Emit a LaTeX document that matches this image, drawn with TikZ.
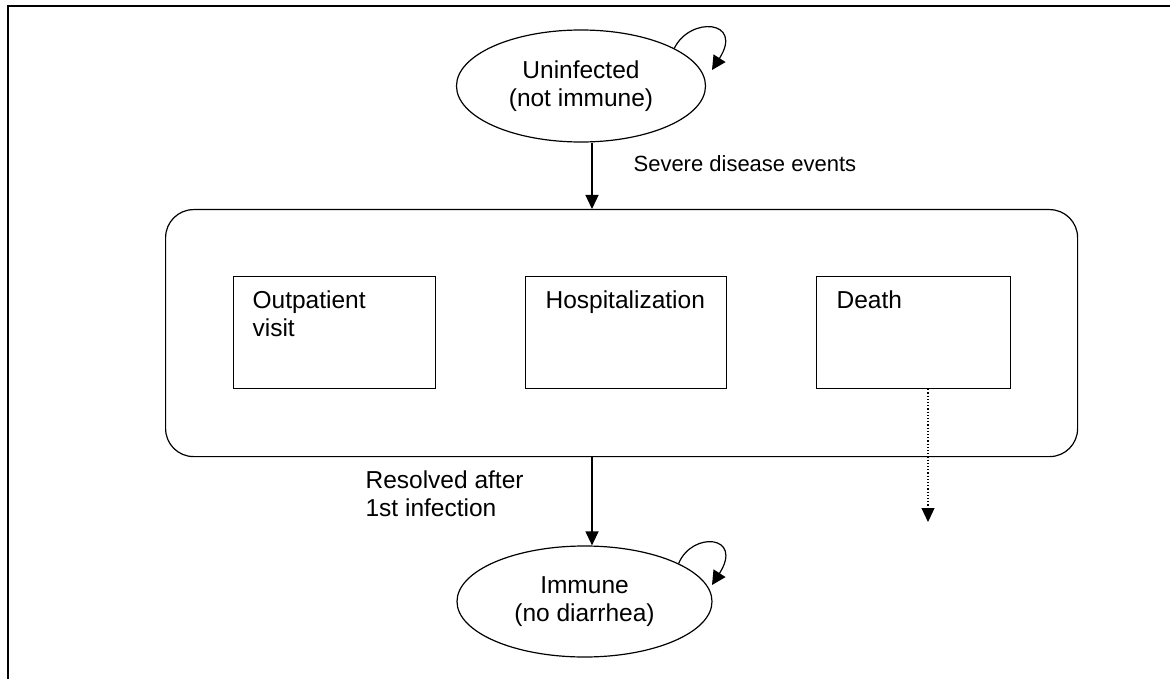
\documentclass[tikz,border=0pt]{standalone}
\usepackage{fontspec}
\setmainfont{Liberation Sans}
\usetikzlibrary{shapes.geometric,arrows.meta,calc}
\begin{document}
\begin{tikzpicture}[x=1pt,y=-1pt,
  line width=1.2pt,
  mainfont/.style={font=\fontsize{24.5}{28}\selectfont},
  smallfont/.style={font=\fontsize{22}{26}\selectfont},
  state/.style={draw, ellipse, inner sep=0pt, align=center, mainfont},
  evbox/.style={draw, rectangle, minimum width=202pt, minimum height=112pt, anchor=north west, inner sep=0pt},
  boxtext/.style={anchor=base west, inner sep=0pt, align=left, mainfont},
  lbl/.style={anchor=base west, inner sep=0pt, align=left},
  arr/.style={-{Triangle[length=14pt,width=13pt]}},
  looparr/.style={-{Triangle[length=14pt,width=14pt]}},
  dotarr/.style={dotted, -{Triangle[length=14pt,width=13pt]}}
]
\useasboundingbox (0,0) rectangle (1170,679);
% frame (top and left edges)
\draw[line width=1.8pt] (8,680) -- (8,6) -- (1171,6);

% states
\node[state, minimum width=249pt, minimum height=112pt] (unf) at (581,86) {Uninfected\\(not immune)};
\node[state, minimum width=255pt, minimum height=111pt] (imm) at (584.5,601.5) {Immune\\(no diarrhea)};

% big rounded box
\node[draw, rectangle, rounded corners=28pt, minimum width=912pt, minimum height=247pt, anchor=north west, inner sep=0pt] (rb) at (165,209) {};

% event boxes
\node[evbox] (outp) at (233,276) {};
\node[evbox, minimum width=201pt] (hosp) at (525,276) {};
\node[evbox, minimum width=194pt] (death) at (816,276) {};
\node[boxtext] (outpT) at (252,336) {Outpatient\\visit};
\node[boxtext] (hospT) at (545,308) {Hospitalization};
\node[boxtext] (deathT) at (836,308) {Death};

% connectors
\coordinate (ax) at (592,0);
\draw[arr] (unf.south -| ax) -- (rb.north -| ax);
\draw[arr] (rb.south -| ax) -- (imm.north -| ax);
\node[lbl, smallfont] (sev) at (633,172) {Severe disease events};
\node[lbl, mainfont] (res) at (365,516) {Resolved after\\1st infection};

% dotted arrow from death
\coordinate (dend) at (928,522);
\draw[dotarr] (death.south -| dend) -- (dend);

% self loops
\coordinate (unfLoop) at (712,70);
\draw[looparr] (unf.22) .. controls (690,16) and (744,20) .. (unfLoop);
\coordinate (immLoop) at (712,585);
\draw[looparr] (imm.22) .. controls (692,531) and (744,535) .. (immLoop);
\end{tikzpicture}
\end{document}
